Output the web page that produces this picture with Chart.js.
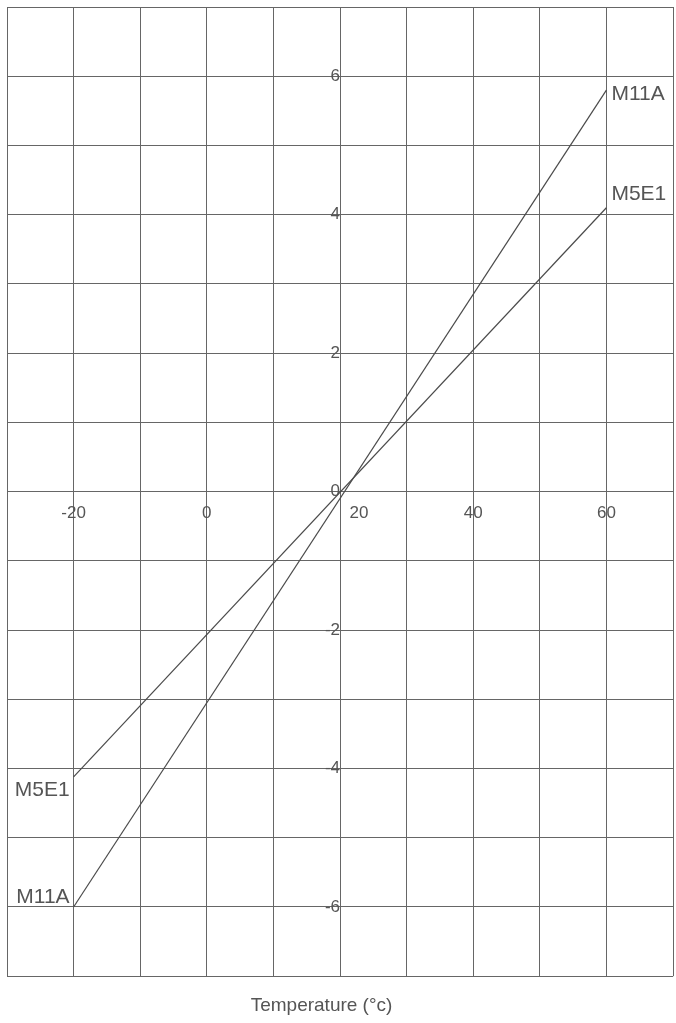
<!DOCTYPE html>
<html>
<head>
<meta charset="utf-8">
<script src="https://cdn.jsdelivr.net/npm/chart.js@4"></script>
<style>
  html, body { margin: 0; padding: 0; background: #fff; }
  #wrap { width: 676px; height: 1023px; }
</style>
</head>
<body>
<div id="wrap"><canvas id="c"></canvas></div>
<script>
// temperature (deg C) at the two ends of each drawn line
const temps = [-20, 60];
const m11a = [-6, 5.8];
const m5e1 = [-4.12, 4.1];
const seriesNames = ['M11A', 'M5E1'];

const ink = '#555';
const gridInk = '#666';
const fontFam = '"Liberation Sans", Arial, sans-serif';

function pts(ys) {
  return temps.map((t, i) => ({ x: t, y: ys[i] }));
}

// axes sit inside the plot, so they shouldn't push the plot edges in
function noEdgePad(scale) {
  scale.paddingLeft = 0;
  scale.paddingRight = 0;
  scale.paddingTop = 0;
  scale.paddingBottom = 0;
}

// name tags at both ends of each line
const endLabels = {
  id: 'endLabels',
  afterDatasetsDraw(chart) {
    const ctx = chart.ctx;
    ctx.save();
    ctx.font = '21px ' + fontFam;
    ctx.fillStyle = ink;
    chart.data.datasets.forEach((ds, i) => {
      const p = chart.getDatasetMeta(i).data;
      const first = p[0], last = p[p.length - 1];
      // right end
      ctx.textAlign = 'left';
      if (i === 0) {
        ctx.textBaseline = 'middle';
        ctx.fillText(ds.label, last.x + 5, last.y + 4);
      } else {
        ctx.textBaseline = 'alphabetic';
        ctx.fillText(ds.label, last.x + 5, last.y - 8);
      }
      // left end
      ctx.textAlign = 'right';
      if (i === 0) {
        ctx.textBaseline = 'alphabetic';
        ctx.fillText(ds.label, first.x - 4, first.y - 4);
      } else {
        ctx.textBaseline = 'top';
        ctx.fillText(ds.label, first.x - 4, first.y + 3);
      }
    });
    ctx.restore();
  }
};

new Chart(document.getElementById('c'), {
  type: 'scatter',
  data: {
    datasets: [
      { label: seriesNames[0], data: pts(m11a) },
      { label: seriesNames[1], data: pts(m5e1) }
    ].map(d => Object.assign(d, {
      showLine: true,
      borderColor: '#4a4a4a',
      borderWidth: 1.2,
      pointRadius: 0,
      fill: false
    }))
  },
  options: {
    responsive: true,
    maintainAspectRatio: false,
    animation: false,
    layout: { autoPadding: false, padding: { left: 7, right: 3, top: 7, bottom: 0 } },
    plugins: {
      legend: { display: false },
      tooltip: { enabled: false },
      title: {
        display: true,
        position: 'bottom',
        // trailing spaces nudge the centred title a little to the left, as in the scan
        text: 'Temperature (°c)' + ' '.repeat(7),
        color: ink,
        font: { family: fontFam, size: 19, weight: 'normal' },
        padding: { top: 18, bottom: 6 }
      }
    },
    scales: {
      x: {
        type: 'linear',
        position: { y: 0 },
        min: -30,
        max: 70,
        afterFit: noEdgePad,
        grid: { color: gridInk, lineWidth: 1, drawTicks: false },
        border: { color: gridInk },
        ticks: {
          stepSize: 10,
          autoSkip: false,
          maxRotation: 0,
          padding: 12,
          color: ink,
          font: { family: fontFam, size: 17 },
          callback: v => {
            if (v % 20 !== 0 || v <= -30 || v >= 70) return '';
            // the 20 label sits clear of the vertical axis
            return v === 20 ? ' '.repeat(8) + '20' : String(v);
          }
        }
      },
      y: {
        type: 'linear',
        position: { x: 20 },
        min: -7,
        max: 7,
        afterFit: noEdgePad,
        grid: { color: gridInk, lineWidth: 1, drawTicks: false },
        border: { color: gridInk },
        ticks: {
          stepSize: 1,
          autoSkip: false,
          padding: 4,
          color: ink,
          font: { family: fontFam, size: 17 },
          callback: v => (v % 2 === 0) ? String(v) : ''
        }
      }
    }
  },
  plugins: [endLabels]
});
</script>
</body>
</html>
